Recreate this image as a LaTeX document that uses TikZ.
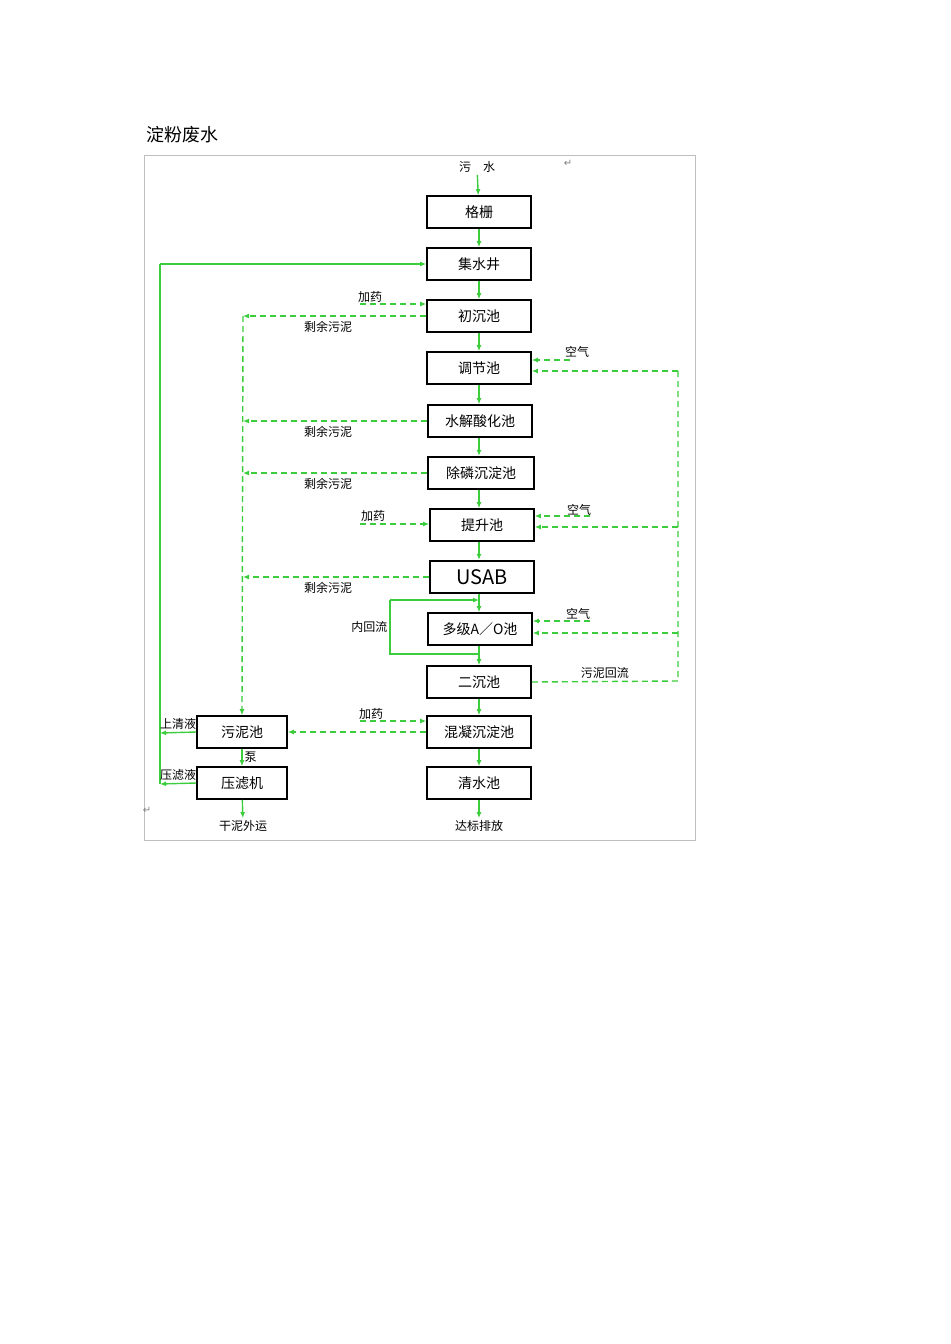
\documentclass[tikz,border=0pt]{standalone}
\usepackage{fontspec}
\setmainfont{Noto Sans CJK SC}
\newfontfamily\djvfont{DejaVu Sans}
\usetikzlibrary{arrows.meta}
\definecolor{gr}{RGB}{60,205,60}
\begin{document}
\begin{tikzpicture}[x=0.5pt,y=-0.5pt,
 box/.style={draw=black,line width=0.8pt,minimum width=52pt,minimum height=16pt,inner sep=0pt,font=\fontsize{7}{8}\selectfont},
 fl/.style={draw=gr,line width=0.7pt,-{Latex[length=3pt,width=2.5pt]}},
 dfl/.style={fl,dash pattern=on 3pt off 2pt},
 dl/.style={draw=gr,line width=0.7pt,dash pattern=on 3pt off 2pt},
 sl/.style={draw=gr,line width=0.7pt},
 lab/.style={font=\fontsize{6}{7}\selectfont,inner sep=1pt}]
\useasboundingbox (0,0) rectangle (950,1344);
\fill[white] (0,0) rectangle (950,1344);
\draw[black!25,line width=0.5pt] (144,155) rectangle (695,840);
\node[font=\fontsize{9}{10}\selectfont] (title) at (182,135) {淀粉废水};
\node[font=\djvfont\fontsize{5}{6}\selectfont,black!50] (p1) at (568,163) {↵};
\node[font=\djvfont\fontsize{5}{6}\selectfont,black!50] (p2) at (147,810) {↵};
% main boxes
\node[box] (b1) at (479,212) {格栅};
\node[box] (b2) at (479,264) {集水井};
\node[box] (b3) at (479,316) {初沉池};
\node[box] (b4) at (479,368) {调节池};
\node[box] (b5) at (480,421) {水解酸化池};
\node[box,line width=1.1pt,minimum width=53pt] (b6) at (481,473) {除磷沉淀池};
\node[box] (b7) at (482,525) {提升池};
\node[box,line width=1.1pt] (b8) at (482,577) {\fontsize{10}{10}\selectfont USAB};
\node[box] (b9) at (480,629) {多级A／O池};
\node[box] (b10) at (479,682) {二沉池};
\node[box] (b11) at (479,732) {混凝沉淀池};
\node[box] (b12) at (479,783) {清水池};
\node[box,minimum width=45pt] (s1) at (242,732) {污泥池};
\node[box,minimum width=45pt] (s2) at (242,783) {压滤机};
\node[lab] (in) at (477,167) {污\quad 水};
\node[lab] (out) at (479,826) {达标排放};
\node[lab] (out2) at (243,826) {干泥外运};
% main flow
\draw[fl] (in) -- (b1);
\foreach \a/\b in {b1/b2,b2/b3,b3/b4,b4/b5,b5/b6,b6/b7,b7/b8,b8/b9,b9/b10,b10/b11,b11/b12}
  \draw[fl] (\a.south -| 479,0) -- (\b.north -| 479,0);
\draw[fl] (b12) -- (out);
\draw[fl] (s1) -- node[lab,right] {泵} (s2);
\draw[fl] (s2) -- (out2);
% left solid return line
\coordinate (L1) at (160,264);
\coordinate (L2) at (160,784);
\draw[sl] (L2) -- (L1);
\draw[fl] (L1) -- (b2.west);
\draw[fl] (s1.west) -- node[lab,above]{上清液} (160,733);
\draw[fl] (s2.west) -- node[lab,above]{压滤液} (160,784);
% sludge dashed line
\coordinate (S0) at (243,316);
\draw[dfl] (S0) -- (s1.north);
\foreach \b/\y in {b3/316,b5/421,b6/473,b8/577}{
  \draw[dfl] (\b.west |- 0,\y) -- (243,\y);
  \node[lab] at (328,\y+11) {剩余污泥};
}
\draw[dfl] (b11.west) -- (s1.east);
% chemicals
\node[lab] (j1) at (370,297) {加药};
\node[lab] (j2) at (373,516) {加药};
\node[lab] (j3) at (371,714) {加药};
\draw[dfl] (360,304) -- (b3.west |- 0,304);
\draw[dfl] (360,524) -- (b7.west |- 0,524);
\draw[dfl] (360,721) -- (b11.west |- 0,721);
% air
\node[lab] (a1) at (577,352) {空气};
\node[lab] (a2) at (579,510) {空气};
\node[lab] (a3) at (578,614) {空气};
\draw[dfl] (570,360) -- (b4.east |- 0,360);
\draw[dfl] (590,516) -- (b7.east |- 0,516);
\draw[dfl] (590,621) -- (b9.east |- 0,621);
% sludge return
\coordinate (R) at (678,681);
\draw[dl] (b10.east) -- node[lab,above]{污泥回流} (R) -- (678,371);
\draw[dfl] (678,371) -- (b4.east |- 0,371);
\draw[dfl] (678,527) -- (b7.east |- 0,527);
\draw[dfl] (678,633) -- (b9.east |- 0,633);
% internal recycle
\draw[sl] (479,654) -- (390,654) -- node[lab,left]{内回流} (390,600);
\draw[fl] (390,600) -- (479,600);
\end{tikzpicture}
\end{document}
